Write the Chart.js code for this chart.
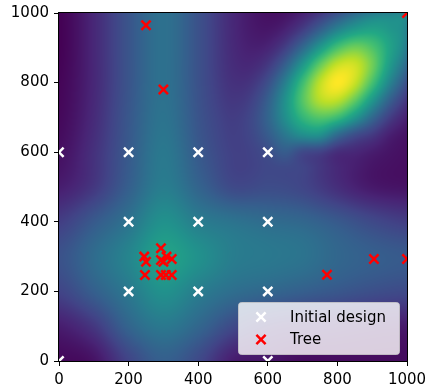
<!DOCTYPE html>
<html><head><meta charset="utf-8">
<script src="https://cdn.jsdelivr.net/npm/chart.js@4.4.1/dist/chart.umd.min.js"></script>
<style>html,body{margin:0;padding:0;background:#fff}#wrap{width:428px;height:387px}</style>
</head><body><div id="wrap"><canvas id="c" width="428" height="387"></canvas></div>
<script>
// ---- data ----
const initialX = [0, 200, 400, 600, 200, 400, 600, 200, 400, 600, 0, 600];
const initialY = [600, 600, 600, 600, 400, 400, 400, 200, 200, 200, 0, 0];
const treeX = [250, 300, 1000, 770, 905, 1000, 245, 250, 247, 293, 293, 309, 324, 300, 293, 307, 324];
const treeY = [965, 780, 1000, 248, 293, 293, 300, 285, 247, 324, 290, 300, 293, 285, 247, 247, 247];
const tickValues = [0, 200, 400, 600, 800, 1000];
const seriesNames = ['Initial design', 'Tree'];

// background surface: columns x = 0..1000, rows y = 1000..0 (step 100)
const baseXs = [0, 100, 200, 300, 400, 500, 600, 700, 800, 900, 1000];
const baseYs = [1000, 900, 800, 700, 600, 500, 400, 300, 200, 100, 0];
const baseRows = [
  [0.00, 0.11, 0.26, 0.37, 0.25, 0.11, 0.03, 0.01, 0.00, 0.00, 0.00],
  [0.00, 0.11, 0.26, 0.37, 0.25, 0.11, 0.03, 0.01, 0.00, 0.00, 0.00],
  [0.01, 0.11, 0.26, 0.37, 0.25, 0.11, 0.03, 0.01, 0.00, 0.00, 0.00],
  [0.02, 0.12, 0.27, 0.38, 0.26, 0.12, 0.04, 0.02, 0.01, 0.01, 0.01],
  [0.04, 0.14, 0.28, 0.40, 0.28, 0.14, 0.06, 0.04, 0.03, 0.03, 0.03],
  [0.08, 0.16, 0.30, 0.42, 0.32, 0.20, 0.18, 0.15, 0.10, 0.06, 0.05],
  [0.18, 0.28, 0.38, 0.50, 0.42, 0.38, 0.35, 0.33, 0.28, 0.22, 0.18],
  [0.25, 0.35, 0.45, 0.57, 0.50, 0.42, 0.40, 0.38, 0.33, 0.30, 0.28],
  [0.20, 0.30, 0.40, 0.50, 0.42, 0.36, 0.33, 0.30, 0.27, 0.24, 0.22],
  [0.08, 0.16, 0.32, 0.40, 0.33, 0.22, 0.15, 0.12, 0.10, 0.08, 0.07],
  [0.02, 0.05, 0.20, 0.30, 0.22, 0.08, 0.06, 0.03, 0.03, 0.03, 0.03]
];
// bright ridge near (800, 800), read at a finer step: columns x = 450..1000, rows y = 1000..450 (step 50)
const peakXs = [450, 500, 550, 600, 650, 700, 750, 800, 850, 900, 950, 1000];
const peakYs = [1000, 950, 900, 850, 800, 750, 700, 650, 600, 550, 500, 450];
const peakRows = [
  [0.000, 0.001, 0.004, 0.012, 0.033, 0.077, 0.149, 0.238, 0.332, 0.402, 0.429, 0.400],
  [0.001, 0.003, 0.011, 0.033, 0.083, 0.174, 0.307, 0.450, 0.546, 0.578, 0.530, 0.429],
  [0.002, 0.008, 0.026, 0.073, 0.170, 0.330, 0.528, 0.705, 0.784, 0.720, 0.578, 0.402],
  [0.004, 0.017, 0.052, 0.136, 0.291, 0.516, 0.758, 0.919, 0.930, 0.784, 0.546, 0.332],
  [0.009, 0.031, 0.088, 0.209, 0.411, 0.669, 0.898, 1.000, 0.919, 0.705, 0.450, 0.238],
  [0.014, 0.046, 0.121, 0.265, 0.479, 0.715, 0.882, 0.898, 0.758, 0.528, 0.307, 0.149],
  [0.020, 0.057, 0.139, 0.279, 0.462, 0.632, 0.715, 0.669, 0.516, 0.330, 0.174, 0.077],
  [0.022, 0.059, 0.132, 0.243, 0.368, 0.462, 0.479, 0.330, 0.220, 0.150, 0.070, 0.030],
  [0.020, 0.051, 0.104, 0.174, 0.243, 0.180, 0.160, 0.100, 0.080, 0.050, 0.025, 0.010],
  [0.016, 0.035, 0.067, 0.104, 0.120, 0.120, 0.090, 0.060, 0.040, 0.020, 0.010, 0.004],
  [0.010, 0.021, 0.035, 0.051, 0.059, 0.057, 0.046, 0.031, 0.017, 0.008, 0.003, 0.001],
  [0.005, 0.010, 0.016, 0.020, 0.022, 0.020, 0.014, 0.009, 0.004, 0.002, 0.001, 0.000]
];
const viridisStops = ['#440154','#482475','#414487','#355f8d','#2a788e','#21918c','#22a884','#44bf70','#7ad151','#bddf26','#fde725'];

// ---- helpers ----
const stopRGB = viridisStops.map(h => [parseInt(h.slice(1,3),16), parseInt(h.slice(3,5),16), parseInt(h.slice(5,7),16)]);
function viridis(v) {
  v = Math.max(0, Math.min(1, v));
  const f = v * (stopRGB.length - 1), i = Math.min(stopRGB.length - 2, Math.floor(f)), t = f - i;
  const a = stopRGB[i], b = stopRGB[i + 1];
  return [a[0] + (b[0]-a[0])*t, a[1] + (b[1]-a[1])*t, a[2] + (b[2]-a[2])*t];
}
function cr(p0, p1, p2, p3, t) {
  return p1 + 0.5 * t * (p2 - p0 + t * (2*p0 - 5*p1 + 4*p2 - p3 + t * (3*(p1 - p2) + p3 - p0)));
}
function makeSampler(xs, ys, rows, outside) {
  const nR = rows.length, nC = rows[0].length;
  const x0 = xs[0], dx = xs[1] - xs[0], y0 = ys[0], dy = ys[1] - ys[0];
  const cell = (r, c) => {
    if (outside !== undefined && (r < 0 || r >= nR || c < 0 || c >= nC)) return outside;
    r = Math.max(0, Math.min(nR-1, r)); c = Math.max(0, Math.min(nC-1, c)); return rows[r][c];
  };
  return (vx, vy) => {
    const gx = (vx - x0) / dx, gy = (vy - y0) / dy;
    if (outside !== undefined && (gx < -1 || gx > nC || gy < -1 || gy > nR)) return outside;
    const c = Math.floor(gx), r = Math.floor(gy), tx = gx - c, ty = gy - r;
    const q = [];
    for (let k = -1; k <= 2; k++) q.push(cr(cell(r+k,c-1), cell(r+k,c), cell(r+k,c+1), cell(r+k,c+2), tx));
    return cr(q[0], q[1], q[2], q[3], ty);
  };
}
const baseAt = makeSampler(baseXs, baseYs, baseRows);
const peakAt = makeSampler(peakXs, peakYs, peakRows, 0);

const heatmapPlugin = {
  id: 'heatmap',
  beforeDraw(chart) {
    const {ctx, chartArea, scales} = chart;
    const L = Math.round(chartArea.left), T = Math.round(chartArea.top);
    const W = Math.round(chartArea.right) - L, H = Math.round(chartArea.bottom) - T;
    const img = ctx.createImageData(W, H);
    for (let py = 0; py < H; py++) {
      const vy = scales.y.getValueForPixel(T + py + 0.5);
      for (let px = 0; px < W; px++) {
        const vx = scales.x.getValueForPixel(L + px + 0.5);
        const col = viridis(baseAt(vx, vy) + Math.max(0, peakAt(vx, vy)));
        const o = (py * W + px) * 4;
        img.data[o] = col[0]; img.data[o+1] = col[1]; img.data[o+2] = col[2]; img.data[o+3] = 255;
      }
    }
    ctx.putImageData(img, L, T);
  },
  afterDatasetsDraw(chart) {
    const {ctx, chartArea: a} = chart;
    ctx.save();
    ctx.strokeStyle = '#000'; ctx.lineWidth = 1;
    ctx.strokeRect(Math.round(a.left) - 0.5, Math.round(a.top) - 0.5, Math.round(a.right) - Math.round(a.left) + 1, Math.round(a.bottom) - Math.round(a.top) + 1);
    ctx.restore();
  },
  afterDraw(chart) {
    const {ctx, chartArea: a} = chart;
    const w = 161, h = 52;
    const x = Math.round(a.right) - 8 - w, y = Math.round(a.bottom) - 7 - h;
    ctx.save();
    ctx.beginPath();
    ctx.roundRect(x + 0.5, y + 0.5, w, h, 3);
    ctx.fillStyle = 'rgba(255,255,255,0.8)';
    ctx.fill();
    ctx.strokeStyle = 'rgba(204,204,204,0.8)'; ctx.lineWidth = 1;
    ctx.stroke();
    ctx.font = '15px "DejaVu Sans"';
    ctx.textBaseline = 'middle'; ctx.textAlign = 'left';
    chart.data.datasets.forEach((ds, i) => {
      const cy = y + 15 + i * 22.5, cx = x + 23;
      ctx.strokeStyle = ds.borderColor;
      ctx.lineWidth = 2.5;
      ctx.beginPath();
      const d = 6.5 * Math.SQRT1_2;
      ctx.moveTo(cx - d, cy - d); ctx.lineTo(cx + d, cy + d);
      ctx.moveTo(cx - d, cy + d); ctx.lineTo(cx + d, cy - d);
      ctx.stroke();
      ctx.fillStyle = '#000';
      ctx.fillText(ds.label, x + 52, cy + 1);
    });
    ctx.restore();
  }
};

const toPoints = (xs, ys) => xs.map((v, i) => ({x: v, y: ys[i]}));
const axisCommon = {
  type: 'linear', min: 0, max: 1000,
  afterBuildTicks: s => { s.ticks = tickValues.map(v => ({value: v})); },
  ticks: {color: '#000', font: {family: 'DejaVu Sans', size: 15}, padding: 5, maxRotation: 0, autoSkip: false,
          callback: v => String(v)},
  grid: {display: true, drawOnChartArea: false, drawTicks: true, tickLength: 5, tickWidth: 1, tickColor: '#000'},
  border: {display: false}
};

new Chart(document.getElementById('c'), {
  type: 'scatter',
  data: {
    datasets: [
      {label: seriesNames[0], data: toPoints(initialX, initialY), pointStyle: 'crossRot', pointRadius: 6.5, pointHoverRadius: 6.5,
       borderColor: '#ffffff', backgroundColor: '#ffffff', pointBorderWidth: 2.5, clip: 0},
      {label: seriesNames[1], data: toPoints(treeX, treeY), pointStyle: 'crossRot', pointRadius: 6.5, pointHoverRadius: 6.5,
       borderColor: '#ff0000', backgroundColor: '#ff0000', pointBorderWidth: 2.5, clip: 0}
    ]
  },
  options: {
    responsive: false, animation: false, devicePixelRatio: 1,
    layout: {padding: {top: 13, right: 21, left: 0, bottom: 0}},
    plugins: {legend: {display: false}, tooltip: {enabled: false}},
    scales: {
      x: Object.assign({}, axisCommon, {position: 'bottom', afterFit: s => { s.height = 26; s.paddingLeft = 0; s.paddingRight = 0; }}),
      y: Object.assign({}, axisCommon, {position: 'left', afterFit: s => { s.width = 59; s.paddingTop = 0; s.paddingBottom = 0; }})
    }
  },
  plugins: [heatmapPlugin]
});
</script></body></html>
